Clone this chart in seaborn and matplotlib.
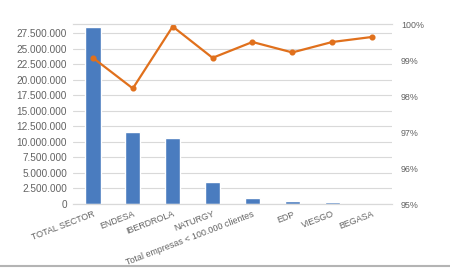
import matplotlib
matplotlib.use("Agg")
import matplotlib.pyplot as plt
import seaborn as sns
import pandas as pd
from matplotlib.lines import Line2D
from matplotlib.ticker import FuncFormatter

categories = ["TOTAL SECTOR", "ENDESA", "IBERDROLA", "NATURGY",
              "Total empresas < 100.000 clientes", "EDP", "VIESGO", "BEGASA"]
clientes = [28570000, 11590000, 10600000, 3500000, 1020000, 490000, 370000, 50000]
porcentaje = [0.9906, 0.9821, 0.9993, 0.9906, 0.9950, 0.9921, 0.9950, 0.9964]
left_ticks = [0, 2500000, 5000000, 7500000, 10000000, 12500000, 15000000,
              17500000, 20000000, 22500000, 25000000, 27500000]
right_ticks = [0.95, 0.96, 0.97, 0.98, 0.99, 1.00]

df = pd.DataFrame({"cat": categories, "clientes": clientes, "pct": porcentaje})

sns.set_theme(style="white")
plt.rcParams["font.family"] = ["Liberation Sans", "DejaVu Sans"]
txt = "#626262"
blue = "#4a7cbf"
orange = "#e0701c"

fig = plt.figure(figsize=(4.5, 2.68), dpi=100)
ax = fig.add_axes([73 / 450, (268 - 204) / 268, (392 - 73) / 450, (204 - 24) / 268])

sns.barplot(data=df, x="cat", y="clientes", color=blue, width=0.38,
            saturation=1, ax=ax, zorder=2)
ax.set_ylim(0, 29000000)
ax.set_yticks(left_ticks)
ax.yaxis.set_major_formatter(FuncFormatter(lambda v, p: f"{v:,.0f}".replace(",", ".")))
ax.grid(axis="y", color="#d9d9d9", linewidth=0.8, zorder=0)
ax.set_axisbelow(True)
ax.set_xlabel("")
ax.set_ylabel("")

ax2 = ax.twinx()
sns.pointplot(data=df, x="cat", y="pct", color=orange, markers="o",
              markersize=3.2, linewidth=1.6, ax=ax2)
ax2.set_ylim(0.95, 1.0)
ax2.set_yticks(right_ticks)
ax2.yaxis.set_major_formatter(FuncFormatter(lambda v, p: f"{v:.0%}"))
ax2.set_ylabel("")
ax2.set_xlabel("")
ax2.grid(False)

ax.set_xlim(-0.5, len(categories) - 0.5)
ax.set_xticks(range(len(categories)))
ax.set_xticklabels(categories, rotation=21, ha="right", rotation_mode="anchor")

for a in (ax, ax2):
    for s in ("left", "right"):
        a.spines[s].set_visible(False)
    a.spines["top"].set_color("#d9d9d9")
    a.spines["top"].set_linewidth(0.8)
    a.spines["bottom"].set_color("#d9d9d9")
    a.spines["bottom"].set_linewidth(0.8)

ax.tick_params(axis="y", length=0, pad=4.3, labelsize=7.2, labelcolor=txt)
ax.tick_params(axis="x", length=0, pad=4, labelsize=6.4, labelcolor=txt)
ax2.tick_params(axis="y", length=0, pad=6.5, labelsize=6.4, labelcolor=txt)
ax2.tick_params(axis="x", length=0, labelbottom=False)

fig.add_artist(Line2D([0, 1], [2.5 / 268, 2.5 / 268], transform=fig.transFigure,
                      color="#b4b4b4", linewidth=1.5))

fig.savefig("out.png", dpi=100)
